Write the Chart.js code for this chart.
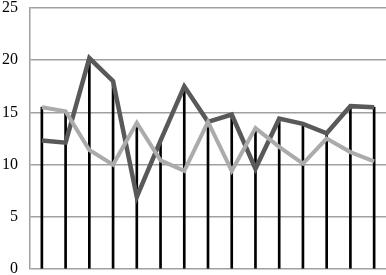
<!DOCTYPE html>
<html>
<head>
<meta charset="utf-8">
<script src="https://cdn.jsdelivr.net/npm/chart.js@4"></script>
<style>
  html, body { margin: 0; padding: 0; background: #fff; }
  #wrap { width: 386px; height: 275px; }
</style>
</head>
<body>
<div id="wrap"><canvas id="main-chart"></canvas></div>
<script>
const labels = ['1', '2', '3', '4', '5', '6', '7', '8', '9', '10', '11', '12', '13', '14', '15'];
const darkSeries = [12.3, 12.1, 20.2, 18.0, 6.9, 12.3, 17.5, 14.1, 14.8, 9.6, 14.4, 13.9, 13.0, 15.6, 15.5];
const lightSeries = [15.5, 15.1, 11.4, 10.0, 14.0, 10.4, 9.4, 14.1, 9.4, 13.5, 11.7, 10.1, 12.5, 11.2, 10.3];
const yTicks = [0, 5, 10, 15, 20, 25];

// drop lines go from the axis up to the higher of the two values
const dropLines = darkSeries.map((v, i) => Math.max(v, lightSeries[i]));

const mainChart = new Chart(document.getElementById('main-chart'), {
  type: 'line',
  data: {
    labels: labels,
    datasets: [
      {
        label: 'light',
        data: lightSeries,
        borderColor: '#ababab',
        borderWidth: 4,
        pointRadius: 0,
        tension: 0,
        order: 1
      },
      {
        label: 'dark',
        data: darkSeries,
        borderColor: '#595959',
        borderWidth: 4.5,
        pointRadius: 0,
        tension: 0,
        order: 2
      },
      {
        type: 'bar',
        label: 'drop',
        data: dropLines,
        backgroundColor: '#000',
        barThickness: 2,
        order: 3
      }
    ]
  },
  options: {
    animation: false,
    responsive: true,
    maintainAspectRatio: false,
    layout: {
      padding: { top: 8, bottom: 6, left: 0, right: 0 }
    },
    plugins: {
      legend: { display: false },
      tooltip: { enabled: false }
    },
    scales: {
      x: {
        display: false,
        offset: true
      },
      y: {
        min: 0,
        max: 25,
        afterBuildTicks: (scale) => {
          scale.ticks = yTicks.map(v => ({ value: v }));
        },
        afterFit: (scale) => {
          scale.width = 30;
          scale.paddingTop = 0;
          scale.paddingBottom = 0;
        },
        border: {
          display: true,
          color: '#a0a0a0',
          width: 1.5
        },
        grid: {
          color: '#a0a0a0',
          lineWidth: 1.5,
          drawTicks: false
        },
        ticks: {
          color: '#000',
          padding: 12,
          font: { family: '"Liberation Serif", "Times New Roman", serif', size: 16 }
        }
      }
    }
  }
});
</script>
</body>
</html>
